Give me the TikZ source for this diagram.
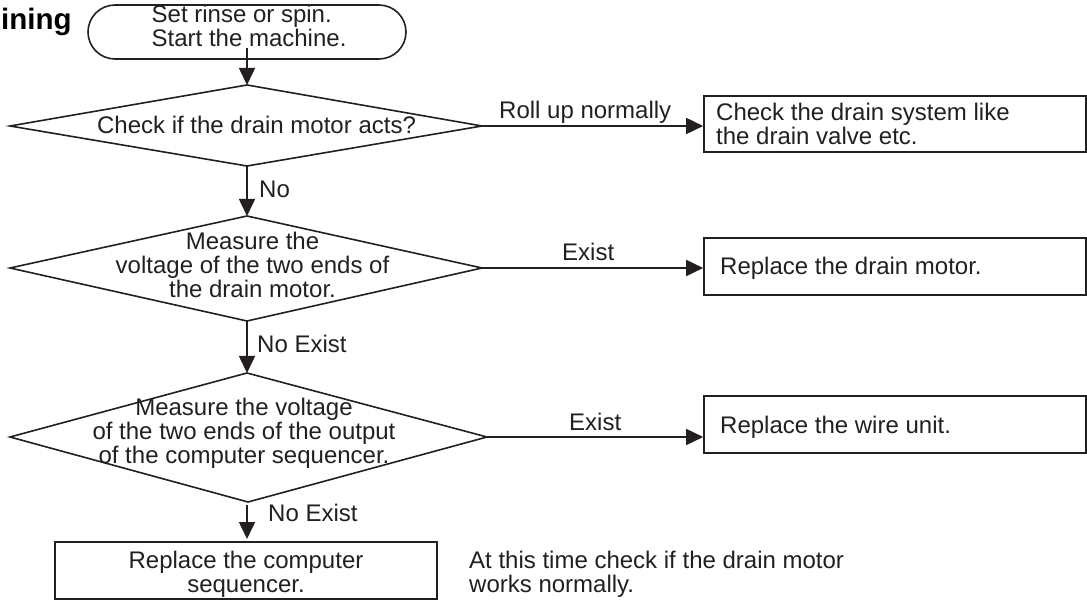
\documentclass[tikz,border=0pt]{standalone}
\usepackage{fontspec}
\setmainfont{Liberation Sans}
\usetikzlibrary{arrows.meta,shapes.geometric}
\definecolor{ink}{HTML}{231F20}
\tikzset{
  ln/.style={draw=ink,line width=1.6pt},
  txt/.style={font=\fontsize{24}{24}\selectfont,align=center,inner sep=0pt,text=ink},
  lbl/.style={font=\fontsize{24}{24}\selectfont,anchor=base west,inner sep=0pt,text=ink},
  arr/.style={ln,-{Triangle[length=17pt,width=16pt]},shorten >=0pt},
  boxn/.style={ln,rectangle,inner sep=0pt}
}
\begin{document}
\begin{tikzpicture}[x=1pt,y=-1pt]
\useasboundingbox (0,0) rectangle (1087,601);
\node[lbl,text=black,font=\fontsize{29.5}{30}\bfseries\selectfont] (title) at (1,30) {ining};
\node[boxn,rounded corners=27pt,minimum width=318pt,minimum height=54pt] (start) at (247,32) {};
\node[txt,align=left,anchor=west] (startt) at (151.5,26) {Set rinse or spin.\\Start the machine.};
\coordinate (aL) at (10,126); \coordinate (aR) at (482,126); \coordinate (aT) at (247,85); \coordinate (aB) at (247,166);
\draw[ln] (aL)--(aT)--(aR)--(aB)--cycle;
\node[txt] (at) at (256.5,125) {Check if the drain motor acts?};
\coordinate (bL) at (10,268); \coordinate (bR) at (482,268); \coordinate (bT) at (247,216); \coordinate (bB) at (247,321);
\draw[ln] (bL)--(bT)--(bR)--(bB)--cycle;
\node[txt] (bt) at (252.5,265) {Measure the\\voltage of the two ends of\\the drain motor.};
\coordinate (cL) at (10,437); \coordinate (cR) at (487,437); \coordinate (cT) at (247,373); \coordinate (cB) at (248,502);
\draw[ln] (cL)--(cT)--(cR)--(cB)--cycle;
\node[txt] (ct) at (244,433) {Measure the voltage\\of the two ends of the output\\of the computer sequencer.};
\node[boxn,minimum width=382pt,minimum height=56pt] (r1) at (895,124) {};
\node[txt,align=left,anchor=west] (r1t) at (716,124) {Check the drain system like\\the drain valve etc.};
\node[boxn,minimum width=382pt,minimum height=57pt] (r2) at (895,266.5) {};
\node[txt,anchor=west] (r2t) at (720,268.5) {Replace the drain motor.};
\node[boxn,minimum width=382pt,minimum height=57pt] (r3) at (895,424.5) {};
\node[txt,anchor=west] (r3t) at (720,427) {Replace the wire unit.};
\node[boxn,minimum width=382pt,minimum height=57pt] (r4) at (246,570.5) {};
\node[txt] (r4t) at (246,574.5) {Replace the computer\\sequencer.};
\node[txt,align=left,anchor=west] (note) at (469,574.5) {At this time check if the drain motor\\works normally.};
\coordinate (s0) at (247,48);
\draw[arr] (s0)--(aT);
\draw[arr] (aB)--(bT);
\draw[arr] (bB)--(cT);
\coordinate (s1) at (247,505);
\coordinate (e1) at (247,539);
\draw[arr] (s1)--(e1);
\draw[arr] (aR)--(aR-|r1.west);
\draw[arr] (bR)--(bR-|r2.west);
\draw[arr] (cR)--(cR-|r3.west);
\node[lbl] (l1) at (259,198) {No};
\node[lbl] (l2) at (257,353) {No Exist};
\node[lbl] (l3) at (268,521) {No Exist};
\node[lbl] (l4) at (499,119) {Roll up normally};
\node[lbl] (l5) at (562,261) {Exist};
\node[lbl] (l6) at (569,430) {Exist};
\end{tikzpicture}
\end{document}
